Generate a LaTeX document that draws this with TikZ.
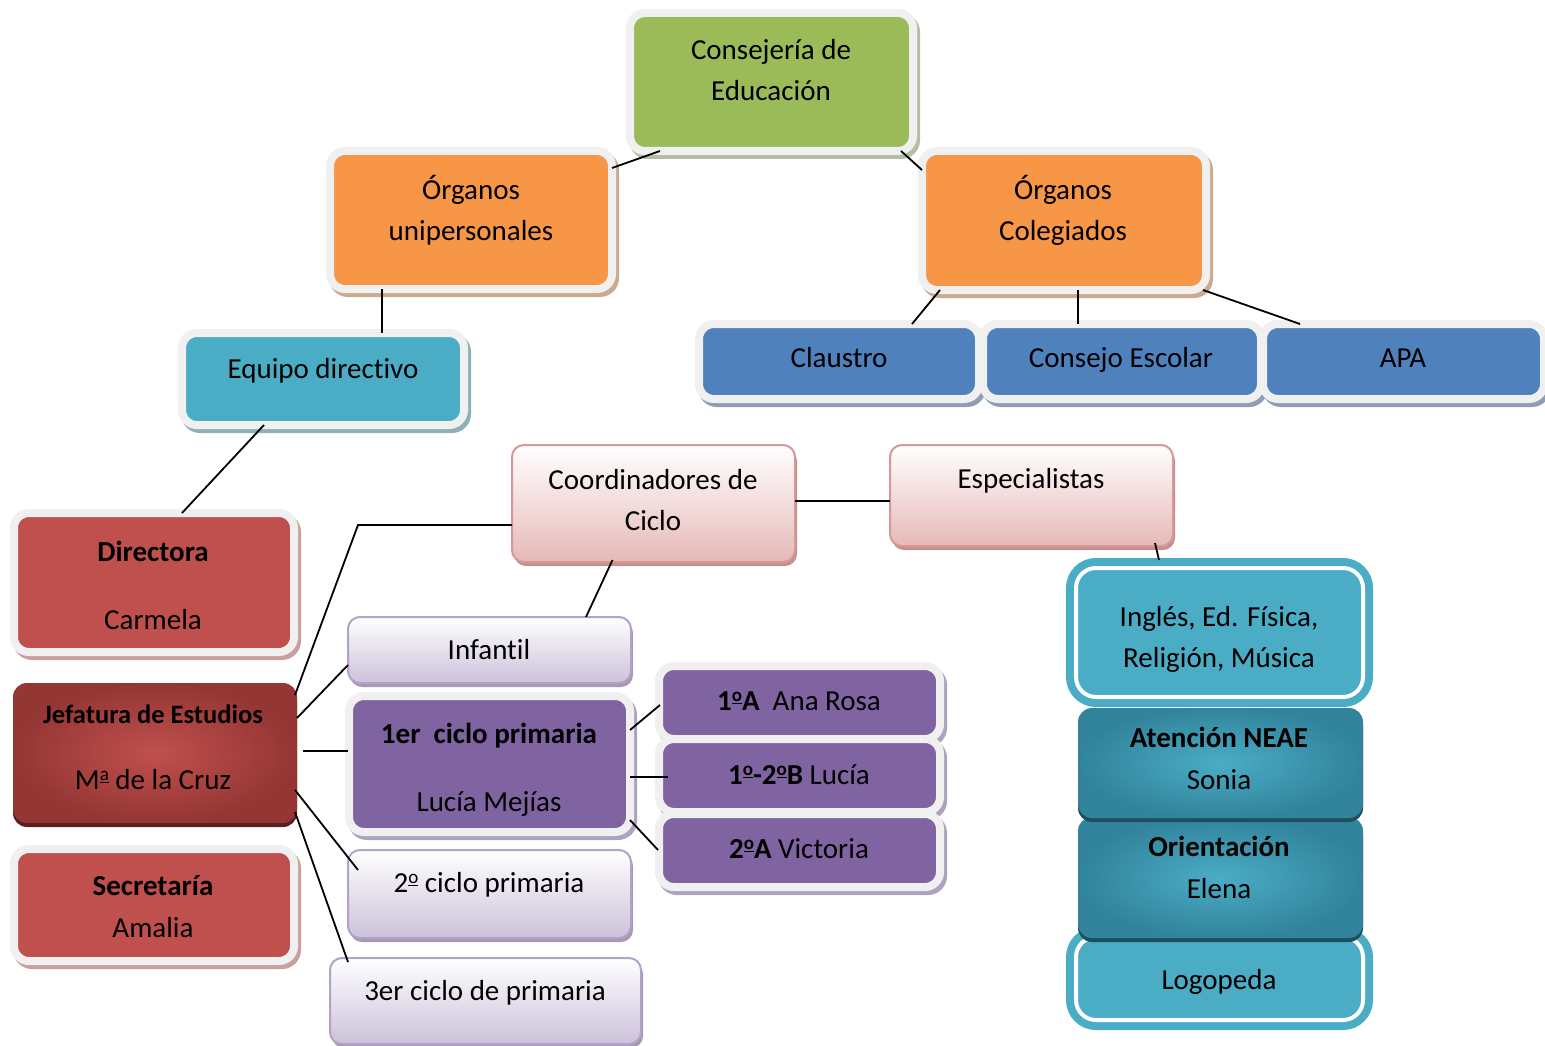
\documentclass[tikz,border=0pt]{standalone}
\usepackage{fontspec}
\setmainfont{Carlito}[Ligatures=NoCommon]
\usetikzlibrary{shadows,calc,backgrounds}
\definecolor{cgreen}{HTML}{9BBB59}
\definecolor{corange}{HTML}{F79646}
\definecolor{cblue}{HTML}{4F81BD}
\definecolor{cteal}{HTML}{4BACC6}
\definecolor{cred}{HTML}{C0504D}
\definecolor{cpurple}{HTML}{8064A2}
\definecolor{cframe}{HTML}{F0F0F0}
\definecolor{shgreen}{HTML}{B5BDA3}
\definecolor{shorange}{HTML}{CBAA8E}
\definecolor{shblue}{HTML}{8E9EB6}
\definecolor{shteal}{HTML}{8FAFB9}
\definecolor{shred}{HTML}{C9A09F}
\definecolor{shpurple}{HTML}{ADA3BE}
\definecolor{cpink}{HTML}{E6B9B8}
\definecolor{bpink}{HTML}{D99795}
\definecolor{clav}{HTML}{CCC1DA}
\definecolor{blav}{HTML}{B3A2C7}
\definecolor{jefout}{HTML}{943634}
\definecolor{tealout}{HTML}{31849B}
\newcommand\myord[1]{\raisebox{0.28em}{\fontsize{19}{19}\selectfont\underline{#1}}}
\tikzset{
  fbox/.style 2 args={rectangle, rounded corners=15pt, draw=cframe, line width=8pt,
    fill=#1, inner sep=0pt, outer sep=0pt,
    drop shadow={shadow xshift=3pt, shadow yshift=-4pt, draw=#2, line width=8pt, fill=#2, opacity=1}},
  gbox/.style 2 args={rectangle, rounded corners=12pt, draw=#2, line width=2pt,
    top color=white, bottom color=#1, inner sep=0pt, outer sep=0pt,
    drop shadow={shadow xshift=2pt, shadow yshift=-4pt, fill=#2!75!gray, opacity=1}},
  dbox/.style={rectangle, rounded corners=20pt, draw=cteal, double=white,
    double distance=4pt, line width=8pt, fill=cteal, inner sep=0pt, outer sep=0pt},
  rbox/.style 2 args={rectangle, rounded corners=14pt, inner color=#1, outer color=#2,
    inner sep=0pt, outer sep=0pt,
    drop shadow={shadow xshift=0pt, shadow yshift=-4pt, fill=#2!60!black, opacity=1}},
  txt/.style={font=\fontsize{29}{41}\selectfont, anchor=base, inner sep=0pt, text=black},
  stxt/.style={font=\fontsize{26.5}{35}\selectfont\bfseries, anchor=base, inner sep=0pt, text=black},
  conn/.style={line width=1.8pt, draw=black},
}
\begin{document}
\begin{tikzpicture}[x=1pt,y=-1pt]
\useasboundingbox (0,0) rectangle (1545,1046);
\begin{scope}[on background layer]
\fill[white] (0,0) rectangle (1545,1046);
\end{scope}

% ---- boxes ----
\node[fbox={cgreen}{shgreen}, minimum width=283pt, minimum height=138pt] (cons) at (771.5,82) {};
\node[fbox={corange}{shorange}, minimum width=282pt, minimum height=138pt] (unip) at (471,220) {};
\node[fbox={corange}{shorange}, minimum width=284pt, minimum height=139pt] (coleg) at (1064,220.5) {};
\node[fbox={cteal}{shteal}, minimum width=282pt, minimum height=92pt] (equipo) at (323,379) {};
\node[fbox={cblue}{shblue}, minimum width=280pt, minimum height=75pt] (claustro) at (839,361.5) {};
\node[fbox={cblue}{shblue}, minimum width=278pt, minimum height=75pt] (consejo) at (1122,361.5) {};
\node[fbox={cblue}{shblue}, minimum width=281pt, minimum height=75pt] (apa) at (1403.5,361.5) {};
\node[fbox={cred}{shred}, minimum width=280pt, minimum height=139pt] (directora) at (154,582.5) {};
\node[fbox={cred}{shred}, minimum width=280pt, minimum height=112pt] (secretaria) at (154,905) {};
\node[rbox={cred}{jefout}, minimum width=284pt, minimum height=140pt] (jefatura) at (155,753) {};
\node[gbox={cpink}{bpink}, minimum width=283pt, minimum height=117pt] (coord) at (653.5,503.5) {};
\node[gbox={cpink}{bpink}, minimum width=283pt, minimum height=101pt] (espec) at (1031.5,495.5) {};
\node[gbox={clav}{blav}, minimum width=283pt, minimum height=66pt] (infantil) at (489.5,650) {};
\node[fbox={cpurple}{shpurple}, minimum width=281pt, minimum height=136pt] (primer) at (489.5,764) {};
\node[gbox={clav}{blav}, minimum width=283pt, minimum height=88pt] (segundo) at (489.5,894) {};
\node[gbox={clav}{blav}, minimum width=311pt, minimum height=86pt] (tercero) at (485.5,1001) {};
\node[fbox={cpurple}{shpurple}, minimum width=281pt, minimum height=73pt] (a1) at (799.5,702.5) {};
\node[fbox={cpurple}{shpurple}, minimum width=281pt, minimum height=73pt] (b12) at (799.5,775.5) {};
\node[fbox={cpurple}{shpurple}, minimum width=281pt, minimum height=73pt] (a2) at (799.5,850.5) {};
\node[dbox, minimum width=287pt, minimum height=129pt] (ingles) at (1219.5,632.5) {};
\node[dbox, minimum width=287pt, minimum height=83pt] (logo) at (1219.5,978.5) {};
\node[rbox={cteal}{tealout}, minimum width=285pt, minimum height=121pt] (orient) at (1220.5,877.5) {};
\node[rbox={cteal}{tealout}, minimum width=285pt, minimum height=110pt] (neae) at (1220.5,763) {};

% ---- connectors ----
\draw[conn] ($(cons.south west)+(30,0)$) -- ($(unip.north east)+(0,17)$);
\draw[conn] ($(cons.south east)+(-12,0)$) -- ($(coleg.north west)+(0,19)$);
\draw[conn] ($(unip.south west)+(52,0)$) -- ($(equipo.north)+(59,0)$);
\draw[conn] ($(coleg.south west)+(18,0)$) -- ($(claustro.north east)+(-67,0)$);
\draw[conn] ($(coleg.south)+(14,0)$) -- ($(consejo.north)+(-44,0)$);
\draw[conn] ($(coleg.south east)+(-3,0)$) -- ($(apa.north west)+(37,0)$);
\draw[conn] ($(equipo.south west)+(82,0)$) -- ($(directora.north west)+(168,0)$);
\draw[conn] ($(coord.west)+(0,21.5)$) -- ++(-154,0) -- ($(jefatura.north east)+(-2,12)$);
\draw[conn] ($(coord.east)+(0,-2.5)$) -- ($(espec.west)+(0,5.5)$);
\draw[conn] ($(coord.south)+(-41,-2)$) -- ($(infantil.north)+(96.5,0)$);
\draw[conn] ($(espec.south east)+(-18,-3)$) -- ($(ingles.north)+(-60.5,-8)$);
\draw[conn] ($(jefatura.east)+(0,-35)$) -- ($(infantil.south west)+(0,-18)$);
\draw[conn] ($(jefatura.east)+(6,-2)$) -- ($(primer.west)+(-1,-13)$);
\draw[conn] ($(jefatura.east)+(-2,37)$) -- ($(segundo.north west)+(10,20)$);
\draw[conn] ($(jefatura.south east)+(-2,-11)$) -- ($(tercero.north west)+(18,4)$);
\draw[conn] ($(primer.east)+(0,-34)$) -- ($(a1.west)+(1,2.5)$);
\draw[conn] ($(primer.east)+(0,13)$) -- ($(b12.west)+(9,1.5)$);
\draw[conn] ($(primer.east)+(0,56)$) -- ($(a2.west)+(-1,-0.5)$);

% ---- texts ----
\node[txt] (t-cons1) at (771,60) {Consejería de};
\node[txt] (t-cons2) at (771,101) {Educación};
\node[txt] (t-unip1) at (471,199) {Órganos};
\node[txt] (t-unip2) at (471,240) {unipersonales};
\node[txt] (t-coleg1) at (1063,199) {Órganos};
\node[txt] (t-coleg2) at (1063,240) {Colegiados};
\node[txt] (t-equipo) at (323,378) {Equipo directivo};
\node[txt] (t-claustro) at (839,367) {Claustro};
\node[txt] (t-consejo) at (1121,367) {Consejo Escolar};
\node[txt] (t-apa) at (1403,367) {APA};
\node[txt] (t-coord1) at (653,489) {Coordinadores de};
\node[txt] (t-coord2) at (653,530) {Ciclo};
\node[txt] (t-espec) at (1031,488) {Especialistas};
\node[txt] (t-dir1) at (153,561) {\bfseries Directora};
\node[txt] (t-dir2) at (153,629) {Carmela};
\node[stxt] (t-jef1) at (153,723) {Jefatura de Estudios};
\node[txt] (t-jef2) at (153,789) {M\myord{a} de la Cruz};
\node[txt] (t-sec1) at (153,895) {\bfseries Secretaría};
\node[txt] (t-sec2) at (153,937) {Amalia};
\node[txt] (t-inf) at (489,659) {Infantil};
\node[txt] (t-pri1) at (489,743) {\bfseries 1er~~ciclo primaria};
\node[txt] (t-pri2) at (489,811) {Lucía Mejías};
\node[txt] (t-seg) at (489,892) {2\myord{o} ciclo primaria};
\node[txt] (t-ter) at (485,1000) {3er ciclo de primaria};
\node[txt] (t-a1) at (799,710) {\textbf{1\myord{o}A}~~Ana Rosa};
\node[txt] (t-b12) at (799,784) {\textbf{1\myord{o}-2\myord{o}B} Lucía};
\node[txt] (t-a2) at (799,858) {\textbf{2\myord{o}A} Victoria};
\node[txt] (t-ing1) at (1219,626) {Inglés, Ed. Física,};
\node[txt] (t-ing2) at (1219,667) {Religión, Música};
\node[txt] (t-neae1) at (1219,747) {\bfseries Atención NEAE};
\node[txt] (t-neae2) at (1219,789) {Sonia};
\node[txt] (t-or1) at (1219,856) {\bfseries Orientación};
\node[txt] (t-or2) at (1219,898) {Elena};
\node[txt] (t-logo) at (1219,989) {Logopeda};
\end{tikzpicture}
\end{document}
